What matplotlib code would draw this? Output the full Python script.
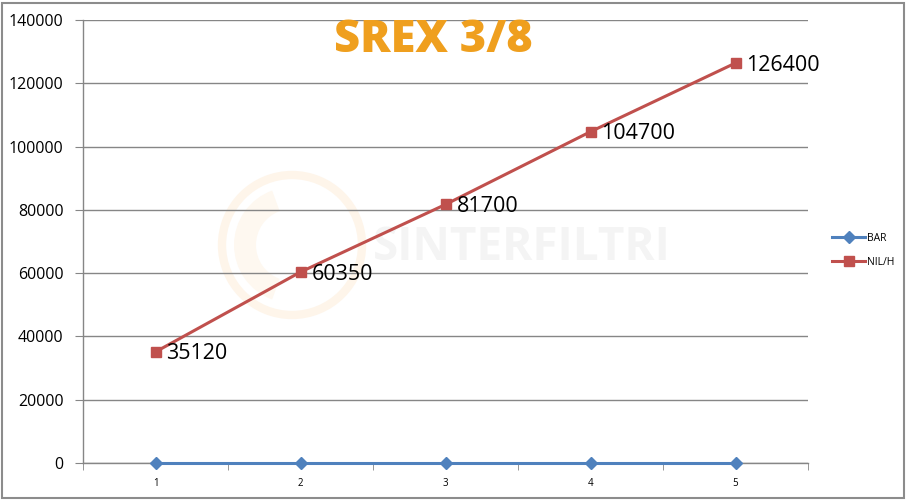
import matplotlib.pyplot as plt
import matplotlib.patches as patches
import numpy as np

# chart values
categories = ['1', '2', '3', '4', '5']
bar_values = [0, 0, 0, 0, 0]
nil_values = [35120, 60350, 81700, 104700, 126400]
y_ticks = [0, 20000, 40000, 60000, 80000, 100000, 120000, 140000]

BLUE = '#4F81BD'
RED = '#C0504D'
GREY = '#868686'

plt.rcParams['font.family'] = ['Open Sans', 'DejaVu Sans']

fig = plt.figure(figsize=(9.06, 5.0), dpi=100)
ax = fig.add_axes([83 / 906, 37 / 500, 725 / 906, 443 / 500])

x = np.arange(1, len(categories) + 1)

# faint watermark logo + text behind the plot
wm = fig.add_axes([0, 0, 1, 1], zorder=-1)
wm.set_xlim(0, 906)
wm.set_ylim(500, 0)
wm.axis('off')
wm.add_patch(patches.Circle((292, 245), 70, fill=False, edgecolor='#FEF5EA', linewidth=6))
wm.add_patch(patches.Wedge((292, 245), 58, 110, 250, width=22, facecolor='#FEF8F0', edgecolor='none'))
wm.text(522, 247, 'SINTERFILTRI', fontsize=33, fontweight='bold', color='#F4F4F4',
        ha='center', va='center')
ax.patch.set_alpha(0)

ax.plot(x, bar_values, color=BLUE, linewidth=2.2, marker='D', markersize=6,
        label='BAR', zorder=3, clip_on=False)
ax.plot(x, nil_values, color=RED, linewidth=2.2, marker='s', markersize=7,
        label='NIL/H', zorder=3)

for xi, v in zip(x, nil_values):
    ax.annotate(str(v), (xi, v), xytext=(11, -2), textcoords='offset pixels',
                ha='left', va='center', fontsize=15.5, color='black')

ax.set_xlim(0.5, len(categories) + 0.5)
ax.set_ylim(0, 140000)
ax.set_yticks(y_ticks)
ax.set_yticklabels([str(t) for t in y_ticks])
ax.set_xticks(x)
ax.set_xticklabels(categories)
ax.set_xticks(np.arange(0.5, len(categories) + 1, 1), minor=True)

ax.grid(axis='y', color=GREY, linewidth=1)
ax.set_axisbelow(True)
for side in ['top', 'right']:
    ax.spines[side].set_visible(False)
for side in ['left', 'bottom']:
    ax.spines[side].set_color(GREY)
    ax.spines[side].set_linewidth(1)

ax.tick_params(axis='y', direction='out', length=6, color=GREY, pad=8, labelsize=11.5)
ax.tick_params(axis='x', which='major', length=0, pad=11, labelsize=7)
ax.tick_params(axis='x', which='minor', direction='out', length=5, color=GREY)

fig.text(433 / 906, 1 - 40 / 500, 'SREX 3/8', fontsize=32.5, fontweight='heavy',
         color='#EF9F1E', ha='center', va='center')

leg = ax.legend(loc='center left', bbox_to_anchor=(1.02, 0.48), frameon=False,
                fontsize=7.5, handlelength=3.2, handletextpad=0.2, labelspacing=1.3)

fig.add_artist(patches.Rectangle((1.5 / 906, 2 / 500), 902 / 906, 495 / 500,
                                 transform=fig.transFigure, fill=False,
                                 edgecolor='#8C8C8C', linewidth=1.5))

fig.savefig('out.png', dpi=100)
